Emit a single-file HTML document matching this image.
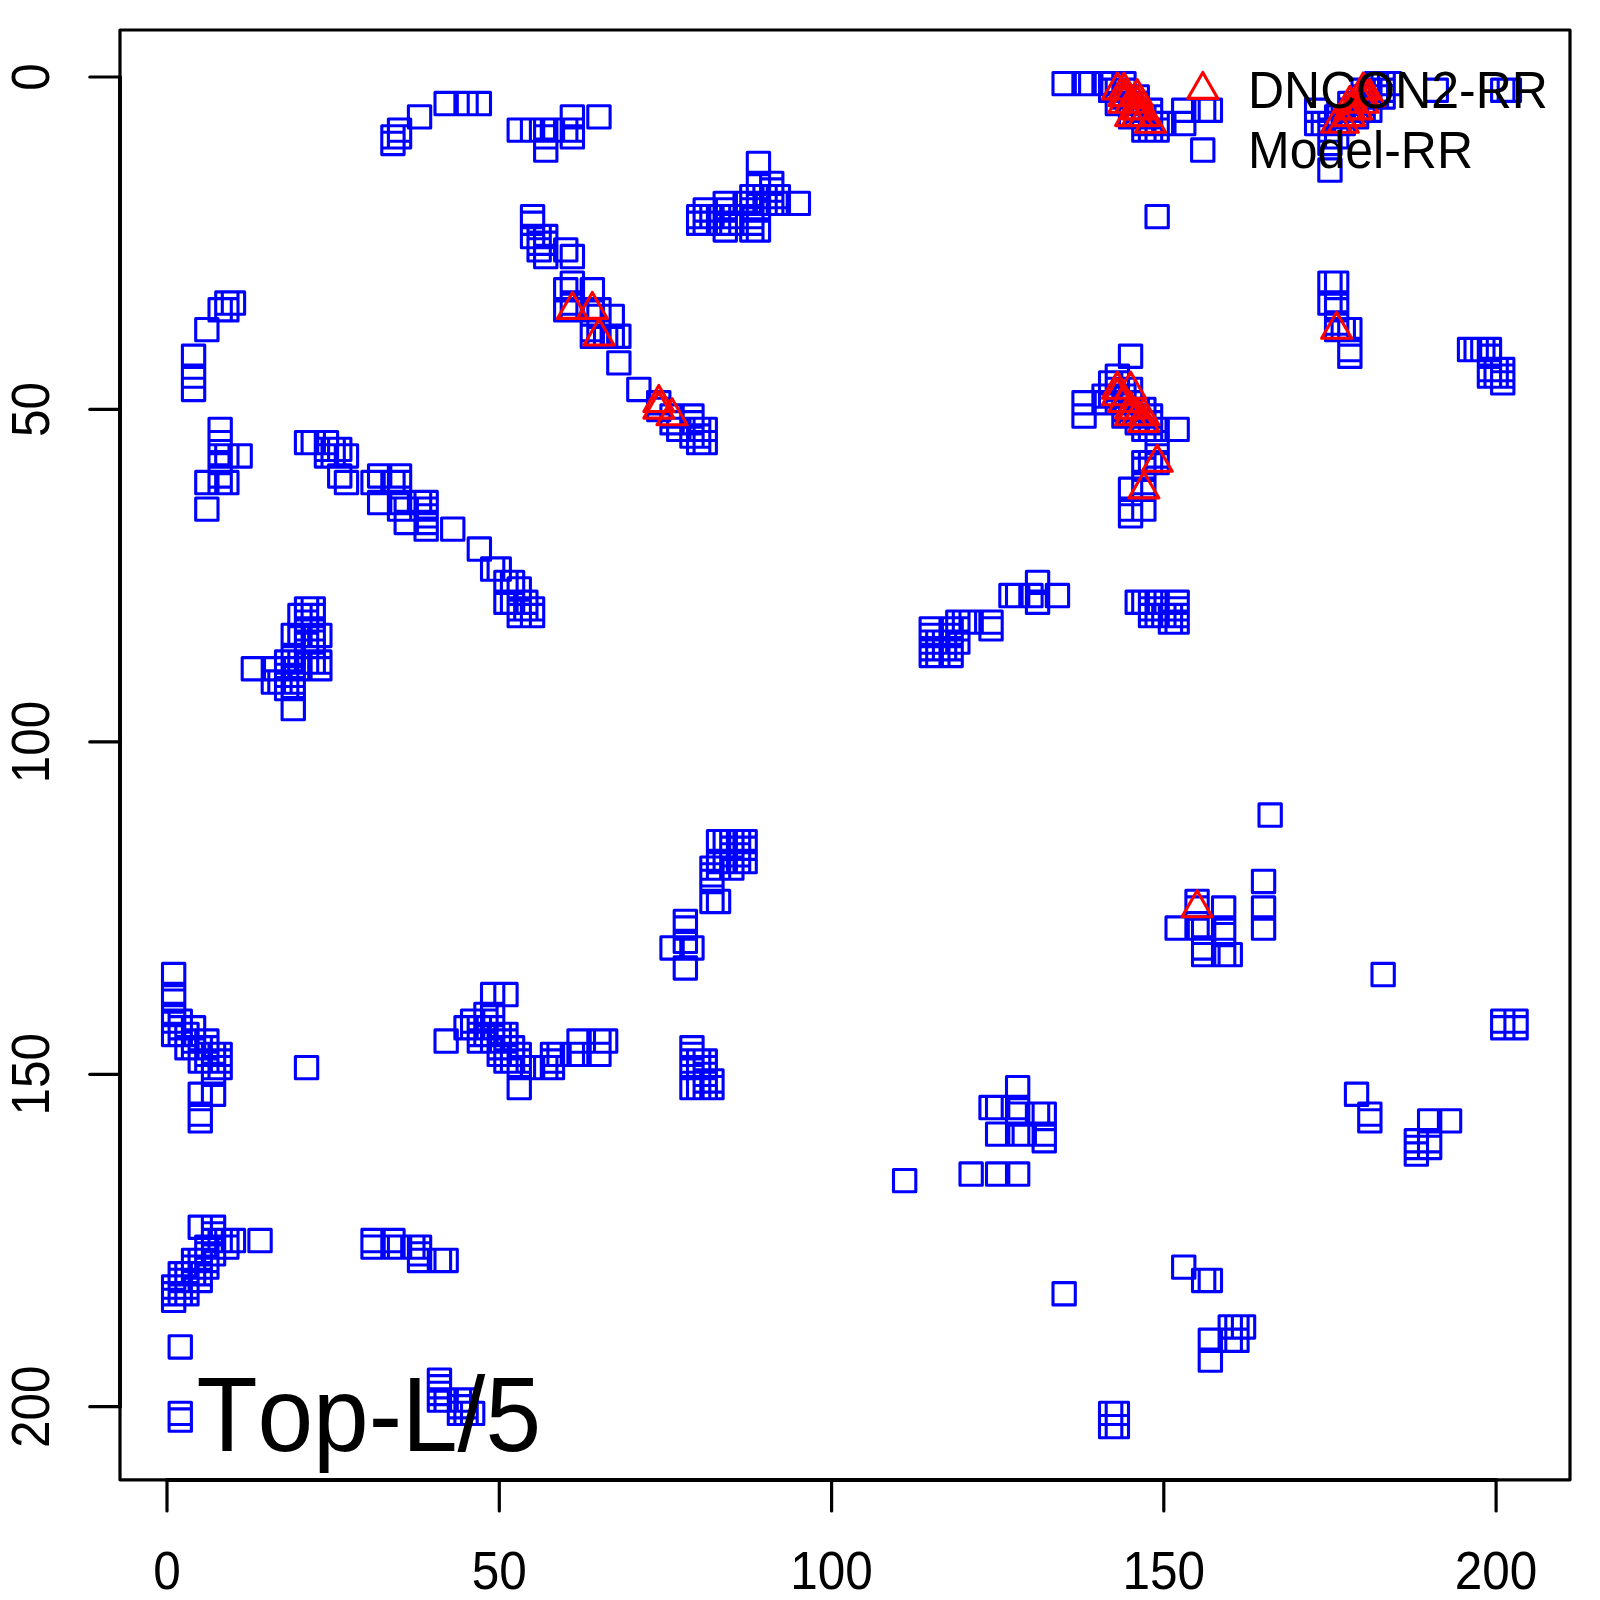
<!DOCTYPE html><html><head><meta charset="utf-8"><title>Top-L/5</title>
<style>html,body{margin:0;padding:0;background:#fff}svg{display:block}text{font-family:"Liberation Sans",sans-serif;fill:#000;font-kerning:none}</style></head><body>
<svg width="1600" height="1600" viewBox="0 0 1600 1600">
<rect width="1600" height="1600" fill="#fff"/>
<path d="M162.5 963.4h22.3v22.3h-22.3zM162.5 983.4h22.3v22.3h-22.3zM162.5 990.0h22.3v22.3h-22.3zM162.5 1003.3h22.3v22.3h-22.3zM162.5 1010.0h22.3v22.3h-22.3zM162.5 1023.3h22.3v22.3h-22.3zM162.5 1275.9h22.3v22.3h-22.3zM162.5 1282.6h22.3v22.3h-22.3zM162.5 1289.2h22.3v22.3h-22.3zM169.1 1010.0h22.3v22.3h-22.3zM169.1 1016.6h22.3v22.3h-22.3zM169.1 1023.3h22.3v22.3h-22.3zM169.1 1262.6h22.3v22.3h-22.3zM169.1 1269.3h22.3v22.3h-22.3zM169.1 1275.9h22.3v22.3h-22.3zM169.1 1282.6h22.3v22.3h-22.3zM169.1 1335.8h22.3v22.3h-22.3zM169.1 1402.2h22.3v22.3h-22.3zM169.1 1408.9h22.3v22.3h-22.3zM175.8 1023.3h22.3v22.3h-22.3zM175.8 1036.6h22.3v22.3h-22.3zM175.8 1262.6h22.3v22.3h-22.3zM175.8 1269.3h22.3v22.3h-22.3zM175.8 1275.9h22.3v22.3h-22.3zM175.8 1282.6h22.3v22.3h-22.3zM182.4 345.1h22.3v22.3h-22.3zM182.4 365.0h22.3v22.3h-22.3zM182.4 378.3h22.3v22.3h-22.3zM182.4 1016.6h22.3v22.3h-22.3zM182.4 1029.9h22.3v22.3h-22.3zM182.4 1036.6h22.3v22.3h-22.3zM182.4 1249.3h22.3v22.3h-22.3zM182.4 1256.0h22.3v22.3h-22.3zM182.4 1262.6h22.3v22.3h-22.3zM189.1 1036.6h22.3v22.3h-22.3zM189.1 1049.9h22.3v22.3h-22.3zM189.1 1083.1h22.3v22.3h-22.3zM189.1 1103.0h22.3v22.3h-22.3zM189.1 1109.7h22.3v22.3h-22.3zM189.1 1216.1h22.3v22.3h-22.3zM189.1 1249.3h22.3v22.3h-22.3zM189.1 1256.0h22.3v22.3h-22.3zM189.1 1262.6h22.3v22.3h-22.3zM189.1 1269.3h22.3v22.3h-22.3zM195.7 318.5h22.3v22.3h-22.3zM195.7 471.4h22.3v22.3h-22.3zM195.7 498.0h22.3v22.3h-22.3zM195.7 1029.9h22.3v22.3h-22.3zM195.7 1036.6h22.3v22.3h-22.3zM195.7 1043.2h22.3v22.3h-22.3zM195.7 1049.9h22.3v22.3h-22.3zM195.7 1236.0h22.3v22.3h-22.3zM195.7 1242.7h22.3v22.3h-22.3zM195.7 1249.3h22.3v22.3h-22.3zM195.7 1256.0h22.3v22.3h-22.3zM202.4 1043.2h22.3v22.3h-22.3zM202.4 1049.9h22.3v22.3h-22.3zM202.4 1056.5h22.3v22.3h-22.3zM202.4 1063.2h22.3v22.3h-22.3zM202.4 1083.1h22.3v22.3h-22.3zM202.4 1216.1h22.3v22.3h-22.3zM202.4 1222.7h22.3v22.3h-22.3zM202.4 1229.4h22.3v22.3h-22.3zM202.4 1236.0h22.3v22.3h-22.3zM202.4 1242.7h22.3v22.3h-22.3zM209.0 298.6h22.3v22.3h-22.3zM209.0 418.2h22.3v22.3h-22.3zM209.0 431.5h22.3v22.3h-22.3zM209.0 444.8h22.3v22.3h-22.3zM209.0 451.5h22.3v22.3h-22.3zM209.0 464.8h22.3v22.3h-22.3zM209.0 471.4h22.3v22.3h-22.3zM209.0 1043.2h22.3v22.3h-22.3zM209.0 1049.9h22.3v22.3h-22.3zM209.0 1056.5h22.3v22.3h-22.3zM209.0 1229.4h22.3v22.3h-22.3zM215.7 291.9h22.3v22.3h-22.3zM215.7 298.6h22.3v22.3h-22.3zM215.7 444.8h22.3v22.3h-22.3zM215.7 471.4h22.3v22.3h-22.3zM215.7 1229.4h22.3v22.3h-22.3zM215.7 1236.0h22.3v22.3h-22.3zM222.3 291.9h22.3v22.3h-22.3zM222.3 1229.4h22.3v22.3h-22.3zM229.0 444.8h22.3v22.3h-22.3zM242.2 657.6h22.3v22.3h-22.3zM248.9 1229.4h22.3v22.3h-22.3zM262.2 657.6h22.3v22.3h-22.3zM262.2 670.9h22.3v22.3h-22.3zM268.8 670.9h22.3v22.3h-22.3zM275.5 650.9h22.3v22.3h-22.3zM275.5 657.6h22.3v22.3h-22.3zM275.5 664.2h22.3v22.3h-22.3zM275.5 670.9h22.3v22.3h-22.3zM275.5 677.5h22.3v22.3h-22.3zM282.1 624.3h22.3v22.3h-22.3zM282.1 644.3h22.3v22.3h-22.3zM282.1 650.9h22.3v22.3h-22.3zM282.1 657.6h22.3v22.3h-22.3zM282.1 664.2h22.3v22.3h-22.3zM282.1 670.9h22.3v22.3h-22.3zM282.1 677.5h22.3v22.3h-22.3zM282.1 697.5h22.3v22.3h-22.3zM288.8 604.4h22.3v22.3h-22.3zM288.8 624.3h22.3v22.3h-22.3zM288.8 650.9h22.3v22.3h-22.3zM288.8 657.6h22.3v22.3h-22.3zM295.4 431.5h22.3v22.3h-22.3zM295.4 597.7h22.3v22.3h-22.3zM295.4 604.4h22.3v22.3h-22.3zM295.4 611.0h22.3v22.3h-22.3zM295.4 617.7h22.3v22.3h-22.3zM295.4 624.3h22.3v22.3h-22.3zM295.4 631.0h22.3v22.3h-22.3zM295.4 650.9h22.3v22.3h-22.3zM295.4 1056.5h22.3v22.3h-22.3zM302.1 431.5h22.3v22.3h-22.3zM302.1 597.7h22.3v22.3h-22.3zM302.1 604.4h22.3v22.3h-22.3zM302.1 617.7h22.3v22.3h-22.3zM302.1 624.3h22.3v22.3h-22.3zM302.1 631.0h22.3v22.3h-22.3zM302.1 650.9h22.3v22.3h-22.3zM308.7 624.3h22.3v22.3h-22.3zM308.7 650.9h22.3v22.3h-22.3zM308.7 657.6h22.3v22.3h-22.3zM315.3 431.5h22.3v22.3h-22.3zM315.3 438.2h22.3v22.3h-22.3zM315.3 444.8h22.3v22.3h-22.3zM322.0 438.2h22.3v22.3h-22.3zM322.0 444.8h22.3v22.3h-22.3zM328.6 438.2h22.3v22.3h-22.3zM328.6 464.8h22.3v22.3h-22.3zM335.3 444.8h22.3v22.3h-22.3zM335.3 471.4h22.3v22.3h-22.3zM361.9 471.4h22.3v22.3h-22.3zM361.9 1229.4h22.3v22.3h-22.3zM361.9 1236.0h22.3v22.3h-22.3zM368.5 464.8h22.3v22.3h-22.3zM368.5 491.4h22.3v22.3h-22.3zM381.8 125.7h22.3v22.3h-22.3zM381.8 132.3h22.3v22.3h-22.3zM381.8 471.4h22.3v22.3h-22.3zM381.8 1229.4h22.3v22.3h-22.3zM381.8 1236.0h22.3v22.3h-22.3zM388.4 119.0h22.3v22.3h-22.3zM388.4 125.7h22.3v22.3h-22.3zM388.4 464.8h22.3v22.3h-22.3zM388.4 471.4h22.3v22.3h-22.3zM388.4 491.4h22.3v22.3h-22.3zM388.4 498.0h22.3v22.3h-22.3zM388.4 1236.0h22.3v22.3h-22.3zM395.1 498.0h22.3v22.3h-22.3zM395.1 511.3h22.3v22.3h-22.3zM401.7 1236.0h22.3v22.3h-22.3zM408.4 105.7h22.3v22.3h-22.3zM408.4 491.4h22.3v22.3h-22.3zM408.4 1236.0h22.3v22.3h-22.3zM408.4 1242.7h22.3v22.3h-22.3zM408.4 1249.3h22.3v22.3h-22.3zM415.0 491.4h22.3v22.3h-22.3zM415.0 498.0h22.3v22.3h-22.3zM415.0 504.7h22.3v22.3h-22.3zM415.0 511.3h22.3v22.3h-22.3zM415.0 518.0h22.3v22.3h-22.3zM428.3 1249.3h22.3v22.3h-22.3zM428.3 1369.0h22.3v22.3h-22.3zM428.3 1375.6h22.3v22.3h-22.3zM428.3 1382.3h22.3v22.3h-22.3zM428.3 1388.9h22.3v22.3h-22.3zM435.0 92.4h22.3v22.3h-22.3zM435.0 1029.9h22.3v22.3h-22.3zM435.0 1249.3h22.3v22.3h-22.3zM435.0 1388.9h22.3v22.3h-22.3zM441.6 518.0h22.3v22.3h-22.3zM448.3 1388.9h22.3v22.3h-22.3zM448.3 1395.6h22.3v22.3h-22.3zM448.3 1402.2h22.3v22.3h-22.3zM454.9 92.4h22.3v22.3h-22.3zM454.9 1016.6h22.3v22.3h-22.3zM454.9 1388.9h22.3v22.3h-22.3zM454.9 1395.6h22.3v22.3h-22.3zM454.9 1402.2h22.3v22.3h-22.3zM461.5 1010.0h22.3v22.3h-22.3zM461.5 1016.6h22.3v22.3h-22.3zM461.5 1402.2h22.3v22.3h-22.3zM468.2 92.4h22.3v22.3h-22.3zM468.2 537.9h22.3v22.3h-22.3zM468.2 1016.6h22.3v22.3h-22.3zM468.2 1023.3h22.3v22.3h-22.3zM468.2 1029.9h22.3v22.3h-22.3zM474.8 1003.3h22.3v22.3h-22.3zM474.8 1010.0h22.3v22.3h-22.3zM474.8 1023.3h22.3v22.3h-22.3zM481.5 557.9h22.3v22.3h-22.3zM481.5 983.4h22.3v22.3h-22.3zM481.5 1003.3h22.3v22.3h-22.3zM481.5 1016.6h22.3v22.3h-22.3zM481.5 1029.9h22.3v22.3h-22.3zM488.1 557.9h22.3v22.3h-22.3zM488.1 1023.3h22.3v22.3h-22.3zM488.1 1036.6h22.3v22.3h-22.3zM488.1 1043.2h22.3v22.3h-22.3zM494.8 571.2h22.3v22.3h-22.3zM494.8 591.1h22.3v22.3h-22.3zM494.8 983.4h22.3v22.3h-22.3zM494.8 1023.3h22.3v22.3h-22.3zM494.8 1029.9h22.3v22.3h-22.3zM494.8 1049.9h22.3v22.3h-22.3zM501.4 571.2h22.3v22.3h-22.3zM501.4 591.1h22.3v22.3h-22.3zM501.4 1036.6h22.3v22.3h-22.3zM501.4 1049.9h22.3v22.3h-22.3zM508.1 119.0h22.3v22.3h-22.3zM508.1 577.8h22.3v22.3h-22.3zM508.1 597.7h22.3v22.3h-22.3zM508.1 604.4h22.3v22.3h-22.3zM508.1 1043.2h22.3v22.3h-22.3zM508.1 1049.9h22.3v22.3h-22.3zM508.1 1056.5h22.3v22.3h-22.3zM508.1 1076.5h22.3v22.3h-22.3zM514.7 591.1h22.3v22.3h-22.3zM514.7 597.7h22.3v22.3h-22.3zM521.4 119.0h22.3v22.3h-22.3zM521.4 205.5h22.3v22.3h-22.3zM521.4 212.1h22.3v22.3h-22.3zM521.4 225.4h22.3v22.3h-22.3zM521.4 597.7h22.3v22.3h-22.3zM521.4 604.4h22.3v22.3h-22.3zM521.4 1056.5h22.3v22.3h-22.3zM528.0 225.4h22.3v22.3h-22.3zM528.0 232.1h22.3v22.3h-22.3zM528.0 238.7h22.3v22.3h-22.3zM534.6 119.0h22.3v22.3h-22.3zM534.6 125.7h22.3v22.3h-22.3zM534.6 139.0h22.3v22.3h-22.3zM534.6 225.4h22.3v22.3h-22.3zM534.6 232.1h22.3v22.3h-22.3zM534.6 245.4h22.3v22.3h-22.3zM534.6 1056.5h22.3v22.3h-22.3zM541.3 119.0h22.3v22.3h-22.3zM541.3 1043.2h22.3v22.3h-22.3zM541.3 1049.9h22.3v22.3h-22.3zM541.3 1056.5h22.3v22.3h-22.3zM547.9 1043.2h22.3v22.3h-22.3zM554.6 119.0h22.3v22.3h-22.3zM554.6 238.7h22.3v22.3h-22.3zM554.6 278.6h22.3v22.3h-22.3zM554.6 298.6h22.3v22.3h-22.3zM561.2 105.7h22.3v22.3h-22.3zM561.2 119.0h22.3v22.3h-22.3zM561.2 125.7h22.3v22.3h-22.3zM561.2 245.4h22.3v22.3h-22.3zM561.2 272.0h22.3v22.3h-22.3zM561.2 291.9h22.3v22.3h-22.3zM561.2 298.6h22.3v22.3h-22.3zM561.2 1043.2h22.3v22.3h-22.3zM567.9 1029.9h22.3v22.3h-22.3zM567.9 1043.2h22.3v22.3h-22.3zM581.2 278.6h22.3v22.3h-22.3zM581.2 298.6h22.3v22.3h-22.3zM581.2 318.5h22.3v22.3h-22.3zM581.2 325.1h22.3v22.3h-22.3zM587.8 105.7h22.3v22.3h-22.3zM587.8 298.6h22.3v22.3h-22.3zM587.8 305.2h22.3v22.3h-22.3zM587.8 325.1h22.3v22.3h-22.3zM587.8 1029.9h22.3v22.3h-22.3zM587.8 1043.2h22.3v22.3h-22.3zM594.5 325.1h22.3v22.3h-22.3zM594.5 1029.9h22.3v22.3h-22.3zM601.1 305.2h22.3v22.3h-22.3zM601.1 325.1h22.3v22.3h-22.3zM607.7 325.1h22.3v22.3h-22.3zM607.7 351.7h22.3v22.3h-22.3zM627.7 378.3h22.3v22.3h-22.3zM647.6 391.6h22.3v22.3h-22.3zM647.6 398.3h22.3v22.3h-22.3zM660.9 404.9h22.3v22.3h-22.3zM660.9 411.6h22.3v22.3h-22.3zM660.9 936.8h22.3v22.3h-22.3zM667.6 418.2h22.3v22.3h-22.3zM674.2 910.2h22.3v22.3h-22.3zM674.2 916.9h22.3v22.3h-22.3zM674.2 930.2h22.3v22.3h-22.3zM674.2 956.8h22.3v22.3h-22.3zM680.8 404.9h22.3v22.3h-22.3zM680.8 411.6h22.3v22.3h-22.3zM680.8 424.9h22.3v22.3h-22.3zM680.8 936.8h22.3v22.3h-22.3zM680.8 1036.6h22.3v22.3h-22.3zM680.8 1043.2h22.3v22.3h-22.3zM680.8 1049.9h22.3v22.3h-22.3zM680.8 1056.5h22.3v22.3h-22.3zM680.8 1076.5h22.3v22.3h-22.3zM687.5 205.5h22.3v22.3h-22.3zM687.5 212.1h22.3v22.3h-22.3zM687.5 418.2h22.3v22.3h-22.3zM687.5 424.9h22.3v22.3h-22.3zM687.5 431.5h22.3v22.3h-22.3zM687.5 1049.9h22.3v22.3h-22.3zM687.5 1056.5h22.3v22.3h-22.3zM687.5 1076.5h22.3v22.3h-22.3zM694.1 198.8h22.3v22.3h-22.3zM694.1 205.5h22.3v22.3h-22.3zM694.1 212.1h22.3v22.3h-22.3zM694.1 418.2h22.3v22.3h-22.3zM694.1 431.5h22.3v22.3h-22.3zM694.1 1049.9h22.3v22.3h-22.3zM694.1 1056.5h22.3v22.3h-22.3zM694.1 1063.2h22.3v22.3h-22.3zM694.1 1069.8h22.3v22.3h-22.3zM694.1 1076.5h22.3v22.3h-22.3zM700.8 205.5h22.3v22.3h-22.3zM700.8 857.0h22.3v22.3h-22.3zM700.8 863.7h22.3v22.3h-22.3zM700.8 870.3h22.3v22.3h-22.3zM700.8 890.3h22.3v22.3h-22.3zM700.8 1069.8h22.3v22.3h-22.3zM700.8 1076.5h22.3v22.3h-22.3zM707.4 205.5h22.3v22.3h-22.3zM707.4 212.1h22.3v22.3h-22.3zM707.4 830.5h22.3v22.3h-22.3zM707.4 850.4h22.3v22.3h-22.3zM707.4 857.0h22.3v22.3h-22.3zM707.4 890.3h22.3v22.3h-22.3zM714.1 192.2h22.3v22.3h-22.3zM714.1 198.8h22.3v22.3h-22.3zM714.1 205.5h22.3v22.3h-22.3zM714.1 212.1h22.3v22.3h-22.3zM714.1 218.8h22.3v22.3h-22.3zM714.1 830.5h22.3v22.3h-22.3zM714.1 850.4h22.3v22.3h-22.3zM720.7 205.5h22.3v22.3h-22.3zM720.7 212.1h22.3v22.3h-22.3zM720.7 830.5h22.3v22.3h-22.3zM720.7 837.1h22.3v22.3h-22.3zM720.7 843.7h22.3v22.3h-22.3zM720.7 850.4h22.3v22.3h-22.3zM720.7 857.0h22.3v22.3h-22.3zM727.4 830.5h22.3v22.3h-22.3zM727.4 837.1h22.3v22.3h-22.3zM727.4 843.7h22.3v22.3h-22.3zM727.4 850.4h22.3v22.3h-22.3zM734.0 192.2h22.3v22.3h-22.3zM734.0 830.5h22.3v22.3h-22.3zM734.0 837.1h22.3v22.3h-22.3zM734.0 850.4h22.3v22.3h-22.3zM740.7 185.5h22.3v22.3h-22.3zM740.7 192.2h22.3v22.3h-22.3zM740.7 198.8h22.3v22.3h-22.3zM740.7 205.5h22.3v22.3h-22.3zM740.7 212.1h22.3v22.3h-22.3zM740.7 218.8h22.3v22.3h-22.3zM747.3 152.3h22.3v22.3h-22.3zM747.3 172.2h22.3v22.3h-22.3zM747.3 185.5h22.3v22.3h-22.3zM747.3 192.2h22.3v22.3h-22.3zM747.3 198.8h22.3v22.3h-22.3zM747.3 218.8h22.3v22.3h-22.3zM753.9 185.5h22.3v22.3h-22.3zM753.9 192.2h22.3v22.3h-22.3zM760.6 172.2h22.3v22.3h-22.3zM760.6 178.9h22.3v22.3h-22.3zM760.6 185.5h22.3v22.3h-22.3zM760.6 192.2h22.3v22.3h-22.3zM767.2 185.5h22.3v22.3h-22.3zM767.2 192.2h22.3v22.3h-22.3zM787.2 192.2h22.3v22.3h-22.3zM893.5 1169.5h22.3v22.3h-22.3zM920.1 617.7h22.3v22.3h-22.3zM920.1 624.3h22.3v22.3h-22.3zM920.1 631.0h22.3v22.3h-22.3zM920.1 637.6h22.3v22.3h-22.3zM920.1 644.3h22.3v22.3h-22.3zM926.7 631.0h22.3v22.3h-22.3zM926.7 637.6h22.3v22.3h-22.3zM926.7 644.3h22.3v22.3h-22.3zM933.4 631.0h22.3v22.3h-22.3zM933.4 637.6h22.3v22.3h-22.3zM940.0 617.7h22.3v22.3h-22.3zM940.0 624.3h22.3v22.3h-22.3zM940.0 631.0h22.3v22.3h-22.3zM940.0 637.6h22.3v22.3h-22.3zM940.0 644.3h22.3v22.3h-22.3zM946.7 611.0h22.3v22.3h-22.3zM946.7 617.7h22.3v22.3h-22.3zM946.7 631.0h22.3v22.3h-22.3zM953.3 611.0h22.3v22.3h-22.3zM960.0 611.0h22.3v22.3h-22.3zM960.0 1162.9h22.3v22.3h-22.3zM979.9 611.0h22.3v22.3h-22.3zM979.9 617.7h22.3v22.3h-22.3zM979.9 1096.4h22.3v22.3h-22.3zM986.5 1096.4h22.3v22.3h-22.3zM986.5 1123.0h22.3v22.3h-22.3zM986.5 1162.9h22.3v22.3h-22.3zM999.8 584.4h22.3v22.3h-22.3zM1006.5 584.4h22.3v22.3h-22.3zM1006.5 1076.5h22.3v22.3h-22.3zM1006.5 1096.4h22.3v22.3h-22.3zM1006.5 1103.0h22.3v22.3h-22.3zM1006.5 1123.0h22.3v22.3h-22.3zM1006.5 1162.9h22.3v22.3h-22.3zM1013.1 1123.0h22.3v22.3h-22.3zM1019.8 584.4h22.3v22.3h-22.3zM1026.4 571.2h22.3v22.3h-22.3zM1026.4 591.1h22.3v22.3h-22.3zM1026.4 1103.0h22.3v22.3h-22.3zM1033.1 1103.0h22.3v22.3h-22.3zM1033.1 1123.0h22.3v22.3h-22.3zM1033.1 1129.6h22.3v22.3h-22.3zM1046.3 584.4h22.3v22.3h-22.3zM1053.0 72.5h22.3v22.3h-22.3zM1053.0 1282.6h22.3v22.3h-22.3zM1072.9 72.5h22.3v22.3h-22.3zM1072.9 391.6h22.3v22.3h-22.3zM1072.9 404.9h22.3v22.3h-22.3zM1079.6 72.5h22.3v22.3h-22.3zM1092.9 72.5h22.3v22.3h-22.3zM1092.9 385.0h22.3v22.3h-22.3zM1092.9 391.6h22.3v22.3h-22.3zM1099.5 72.5h22.3v22.3h-22.3zM1099.5 79.1h22.3v22.3h-22.3zM1099.5 371.7h22.3v22.3h-22.3zM1099.5 385.0h22.3v22.3h-22.3zM1099.5 1402.2h22.3v22.3h-22.3zM1099.5 1415.5h22.3v22.3h-22.3zM1106.2 79.1h22.3v22.3h-22.3zM1106.2 92.4h22.3v22.3h-22.3zM1106.2 365.0h22.3v22.3h-22.3zM1106.2 371.7h22.3v22.3h-22.3zM1106.2 378.3h22.3v22.3h-22.3zM1106.2 391.6h22.3v22.3h-22.3zM1106.2 1402.2h22.3v22.3h-22.3zM1106.2 1415.5h22.3v22.3h-22.3zM1112.8 72.5h22.3v22.3h-22.3zM1112.8 79.1h22.3v22.3h-22.3zM1112.8 85.8h22.3v22.3h-22.3zM1112.8 378.3h22.3v22.3h-22.3zM1112.8 385.0h22.3v22.3h-22.3zM1112.8 398.3h22.3v22.3h-22.3zM1112.8 404.9h22.3v22.3h-22.3zM1119.4 92.4h22.3v22.3h-22.3zM1119.4 105.7h22.3v22.3h-22.3zM1119.4 345.1h22.3v22.3h-22.3zM1119.4 378.3h22.3v22.3h-22.3zM1119.4 391.6h22.3v22.3h-22.3zM1119.4 404.9h22.3v22.3h-22.3zM1119.4 478.1h22.3v22.3h-22.3zM1119.4 498.0h22.3v22.3h-22.3zM1119.4 504.7h22.3v22.3h-22.3zM1126.1 85.8h22.3v22.3h-22.3zM1126.1 92.4h22.3v22.3h-22.3zM1126.1 99.1h22.3v22.3h-22.3zM1126.1 105.7h22.3v22.3h-22.3zM1126.1 398.3h22.3v22.3h-22.3zM1126.1 411.6h22.3v22.3h-22.3zM1126.1 591.1h22.3v22.3h-22.3zM1132.7 105.7h22.3v22.3h-22.3zM1132.7 112.4h22.3v22.3h-22.3zM1132.7 119.0h22.3v22.3h-22.3zM1132.7 398.3h22.3v22.3h-22.3zM1132.7 418.2h22.3v22.3h-22.3zM1132.7 451.5h22.3v22.3h-22.3zM1132.7 458.1h22.3v22.3h-22.3zM1132.7 471.4h22.3v22.3h-22.3zM1132.7 478.1h22.3v22.3h-22.3zM1132.7 498.0h22.3v22.3h-22.3zM1132.7 591.1h22.3v22.3h-22.3zM1139.4 99.1h22.3v22.3h-22.3zM1139.4 105.7h22.3v22.3h-22.3zM1139.4 112.4h22.3v22.3h-22.3zM1139.4 119.0h22.3v22.3h-22.3zM1139.4 404.9h22.3v22.3h-22.3zM1139.4 411.6h22.3v22.3h-22.3zM1139.4 418.2h22.3v22.3h-22.3zM1139.4 451.5h22.3v22.3h-22.3zM1139.4 591.1h22.3v22.3h-22.3zM1139.4 597.7h22.3v22.3h-22.3zM1139.4 604.4h22.3v22.3h-22.3zM1146.0 112.4h22.3v22.3h-22.3zM1146.0 119.0h22.3v22.3h-22.3zM1146.0 205.5h22.3v22.3h-22.3zM1146.0 418.2h22.3v22.3h-22.3zM1146.0 431.5h22.3v22.3h-22.3zM1146.0 444.8h22.3v22.3h-22.3zM1146.0 451.5h22.3v22.3h-22.3zM1146.0 591.1h22.3v22.3h-22.3zM1146.0 597.7h22.3v22.3h-22.3zM1146.0 604.4h22.3v22.3h-22.3zM1152.7 112.4h22.3v22.3h-22.3zM1152.7 604.4h22.3v22.3h-22.3zM1159.3 604.4h22.3v22.3h-22.3zM1159.3 611.0h22.3v22.3h-22.3zM1166.0 418.2h22.3v22.3h-22.3zM1166.0 591.1h22.3v22.3h-22.3zM1166.0 597.7h22.3v22.3h-22.3zM1166.0 604.4h22.3v22.3h-22.3zM1166.0 611.0h22.3v22.3h-22.3zM1166.0 916.9h22.3v22.3h-22.3zM1172.6 99.1h22.3v22.3h-22.3zM1172.6 112.4h22.3v22.3h-22.3zM1172.6 1256.0h22.3v22.3h-22.3zM1185.9 890.3h22.3v22.3h-22.3zM1185.9 896.9h22.3v22.3h-22.3zM1185.9 916.9h22.3v22.3h-22.3zM1192.5 99.1h22.3v22.3h-22.3zM1192.5 916.9h22.3v22.3h-22.3zM1192.5 936.8h22.3v22.3h-22.3zM1192.5 943.5h22.3v22.3h-22.3zM1192.5 1269.3h22.3v22.3h-22.3zM1199.2 99.1h22.3v22.3h-22.3zM1199.2 1269.3h22.3v22.3h-22.3zM1199.2 1329.1h22.3v22.3h-22.3zM1199.2 1349.0h22.3v22.3h-22.3zM1212.5 896.9h22.3v22.3h-22.3zM1212.5 916.9h22.3v22.3h-22.3zM1212.5 923.5h22.3v22.3h-22.3zM1212.5 943.5h22.3v22.3h-22.3zM1219.1 943.5h22.3v22.3h-22.3zM1219.1 1315.8h22.3v22.3h-22.3zM1219.1 1329.1h22.3v22.3h-22.3zM1225.8 1315.8h22.3v22.3h-22.3zM1225.8 1329.1h22.3v22.3h-22.3zM1232.4 1315.8h22.3v22.3h-22.3zM1252.4 870.3h22.3v22.3h-22.3zM1252.4 896.9h22.3v22.3h-22.3zM1252.4 916.9h22.3v22.3h-22.3zM1259.0 803.9h22.3v22.3h-22.3zM1305.5 99.1h22.3v22.3h-22.3zM1305.5 112.4h22.3v22.3h-22.3zM1312.2 112.4h22.3v22.3h-22.3zM1318.8 112.4h22.3v22.3h-22.3zM1318.8 119.0h22.3v22.3h-22.3zM1318.8 125.7h22.3v22.3h-22.3zM1318.8 132.3h22.3v22.3h-22.3zM1318.8 158.9h22.3v22.3h-22.3zM1318.8 272.0h22.3v22.3h-22.3zM1318.8 291.9h22.3v22.3h-22.3zM1325.5 105.7h22.3v22.3h-22.3zM1325.5 112.4h22.3v22.3h-22.3zM1325.5 125.7h22.3v22.3h-22.3zM1325.5 272.0h22.3v22.3h-22.3zM1325.5 291.9h22.3v22.3h-22.3zM1325.5 298.6h22.3v22.3h-22.3zM1325.5 311.9h22.3v22.3h-22.3zM1325.5 318.5h22.3v22.3h-22.3zM1332.1 105.7h22.3v22.3h-22.3zM1332.1 112.4h22.3v22.3h-22.3zM1332.1 318.5h22.3v22.3h-22.3zM1338.7 92.4h22.3v22.3h-22.3zM1338.7 99.1h22.3v22.3h-22.3zM1338.7 105.7h22.3v22.3h-22.3zM1338.7 318.5h22.3v22.3h-22.3zM1338.7 338.4h22.3v22.3h-22.3zM1338.7 345.1h22.3v22.3h-22.3zM1345.4 92.4h22.3v22.3h-22.3zM1345.4 99.1h22.3v22.3h-22.3zM1345.4 105.7h22.3v22.3h-22.3zM1345.4 1083.1h22.3v22.3h-22.3zM1352.0 79.1h22.3v22.3h-22.3zM1352.0 85.8h22.3v22.3h-22.3zM1352.0 92.4h22.3v22.3h-22.3zM1352.0 99.1h22.3v22.3h-22.3zM1358.7 79.1h22.3v22.3h-22.3zM1358.7 85.8h22.3v22.3h-22.3zM1358.7 99.1h22.3v22.3h-22.3zM1358.7 1103.0h22.3v22.3h-22.3zM1358.7 1109.7h22.3v22.3h-22.3zM1365.3 72.5h22.3v22.3h-22.3zM1365.3 79.1h22.3v22.3h-22.3zM1365.3 85.8h22.3v22.3h-22.3zM1372.0 72.5h22.3v22.3h-22.3zM1372.0 79.1h22.3v22.3h-22.3zM1372.0 85.8h22.3v22.3h-22.3zM1372.0 963.4h22.3v22.3h-22.3zM1378.6 72.5h22.3v22.3h-22.3zM1405.2 1129.6h22.3v22.3h-22.3zM1405.2 1136.3h22.3v22.3h-22.3zM1405.2 1142.9h22.3v22.3h-22.3zM1418.5 1109.7h22.3v22.3h-22.3zM1418.5 1129.6h22.3v22.3h-22.3zM1418.5 1136.3h22.3v22.3h-22.3zM1425.1 79.1h22.3v22.3h-22.3zM1438.4 1109.7h22.3v22.3h-22.3zM1458.4 338.4h22.3v22.3h-22.3zM1465.0 338.4h22.3v22.3h-22.3zM1471.7 338.4h22.3v22.3h-22.3zM1478.3 338.4h22.3v22.3h-22.3zM1478.3 345.1h22.3v22.3h-22.3zM1478.3 358.4h22.3v22.3h-22.3zM1478.3 365.0h22.3v22.3h-22.3zM1485.0 358.4h22.3v22.3h-22.3zM1485.0 365.0h22.3v22.3h-22.3zM1491.6 79.1h22.3v22.3h-22.3zM1491.6 358.4h22.3v22.3h-22.3zM1491.6 365.0h22.3v22.3h-22.3zM1491.6 371.7h22.3v22.3h-22.3zM1491.6 1010.0h22.3v22.3h-22.3zM1491.6 1016.6h22.3v22.3h-22.3zM1498.2 79.1h22.3v22.3h-22.3zM1504.9 1010.0h22.3v22.3h-22.3zM1504.9 1016.6h22.3v22.3h-22.3z" fill="none" stroke="#0000ff" stroke-width="3.1" stroke-linejoin="round"/>
<path d="M572.4 292.4L587.4 318.4L557.4 318.4zM592.3 292.4L607.3 318.4L577.3 318.4zM599.0 319.0L614.0 345.0L583.9 345.0zM658.8 385.4L673.8 411.5L643.8 411.5zM658.8 392.1L673.8 418.1L643.8 418.1zM672.1 398.7L687.1 424.8L657.0 424.8zM1336.6 312.3L1351.6 338.3L1321.6 338.3zM1197.1 890.7L1212.1 916.8L1182.0 916.8zM1157.2 445.3L1172.2 471.3L1142.2 471.3zM1143.9 471.9L1158.9 497.9L1128.9 497.9zM1117.3 73.0L1132.3 99.0L1102.3 99.0zM1124.0 73.0L1139.0 99.0L1108.9 99.0zM1124.0 79.6L1139.0 105.6L1108.9 105.6zM1137.2 79.6L1152.3 105.6L1122.2 105.6zM1124.0 86.3L1139.0 112.3L1108.9 112.3zM1130.6 86.3L1145.6 112.3L1115.6 112.3zM1137.2 86.3L1152.3 112.3L1122.2 112.3zM1137.2 92.9L1152.3 118.9L1122.2 118.9zM1130.6 99.6L1145.6 125.6L1115.6 125.6zM1137.2 99.6L1152.3 125.6L1122.2 125.6zM1143.9 99.6L1158.9 125.6L1128.9 125.6zM1150.5 106.2L1165.6 132.2L1135.5 132.2zM1363.2 73.0L1378.2 99.0L1348.2 99.0zM1363.2 79.6L1378.2 105.6L1348.2 105.6zM1369.8 79.6L1384.9 105.6L1354.8 105.6zM1349.9 86.3L1364.9 112.3L1334.9 112.3zM1363.2 86.3L1378.2 112.3L1348.2 112.3zM1349.9 92.9L1364.9 118.9L1334.9 118.9zM1356.5 92.9L1371.6 118.9L1341.5 118.9zM1349.9 99.6L1364.9 125.6L1334.9 125.6zM1336.6 106.2L1351.6 132.2L1321.6 132.2zM1343.3 106.2L1358.3 132.2L1328.2 132.2zM1117.3 372.1L1132.3 398.2L1102.3 398.2zM1130.6 372.1L1145.6 398.2L1115.6 398.2zM1117.3 378.8L1132.3 404.8L1102.3 404.8zM1124.0 385.4L1139.0 411.5L1108.9 411.5zM1130.6 392.1L1145.6 418.1L1115.6 418.1zM1130.6 398.7L1145.6 424.8L1115.6 424.8zM1137.2 398.7L1152.3 424.8L1122.2 424.8zM1143.9 398.7L1158.9 424.8L1128.9 424.8zM1143.9 405.4L1158.9 431.4L1128.9 431.4z" fill="none" stroke="#ff0000" stroke-width="3.1" stroke-linejoin="round"/>
<g fill="none" stroke="#000" stroke-width="3.2" stroke-linecap="round" stroke-linejoin="round">
<rect x="120" y="30" width="1450" height="1449.8"/>
<path d="M167.0 1480V1511"/>
<path d="M120 77.0H89.8"/>
<path d="M499.3 1480V1511"/>
<path d="M120 409.4H89.8"/>
<path d="M831.6 1480V1511"/>
<path d="M120 741.9H89.8"/>
<path d="M1163.8 1480V1511"/>
<path d="M120 1074.3H89.8"/>
<path d="M1496.1 1480V1511"/>
<path d="M120 1406.7H89.8"/>
<path d="M167.0 1480H1496.1" stroke-width="3.9"/>
<path d="M120 77.0V1406.7" stroke-width="3.9"/>
</g>
<text transform="translate(167.0 1589.0) scale(0.9900 1.0570)" font-size="50" text-anchor="middle">0</text>
<text transform="translate(48.8 77.0) rotate(-90) scale(0.9900 1.0570)" font-size="50" text-anchor="middle">0</text>
<text transform="translate(499.3 1589.0) scale(0.9900 1.0570)" font-size="50" text-anchor="middle">50</text>
<text transform="translate(48.8 409.4) rotate(-90) scale(0.9900 1.0570)" font-size="50" text-anchor="middle">50</text>
<text transform="translate(831.6 1589.0) scale(0.9900 1.0570)" font-size="50" text-anchor="middle">100</text>
<text transform="translate(48.8 741.9) rotate(-90) scale(0.9900 1.0570)" font-size="50" text-anchor="middle">100</text>
<text transform="translate(1163.8 1589.0) scale(0.9900 1.0570)" font-size="50" text-anchor="middle">150</text>
<text transform="translate(48.8 1074.3) rotate(-90) scale(0.9900 1.0570)" font-size="50" text-anchor="middle">150</text>
<text transform="translate(1496.1 1589.0) scale(0.9900 1.0570)" font-size="50" text-anchor="middle">200</text>
<text transform="translate(48.8 1406.7) rotate(-90) scale(0.9900 1.0570)" font-size="50" text-anchor="middle">200</text>
<path d="M1202.8 72.4L1217.8 98.4L1187.8 98.4z" fill="none" stroke="#f00" stroke-width="3.1" stroke-linejoin="round"/>
<rect x="1191.6" y="138.9" width="22.3" height="22.3" fill="none" stroke="#00f" stroke-width="3.1" stroke-linejoin="round"/>
<text transform="translate(1248.0 108.0) scale(1.0000 1.0400)" font-size="50">DNCON2-RR</text>
<text transform="translate(1248.0 168.0) scale(1.0000 1.0400)" font-size="50">Model-RR</text>
<text transform="translate(196.4 1451.2) scale(1.0000 1.0600)" font-size="100">Top-L/5</text>
</svg></body></html>
